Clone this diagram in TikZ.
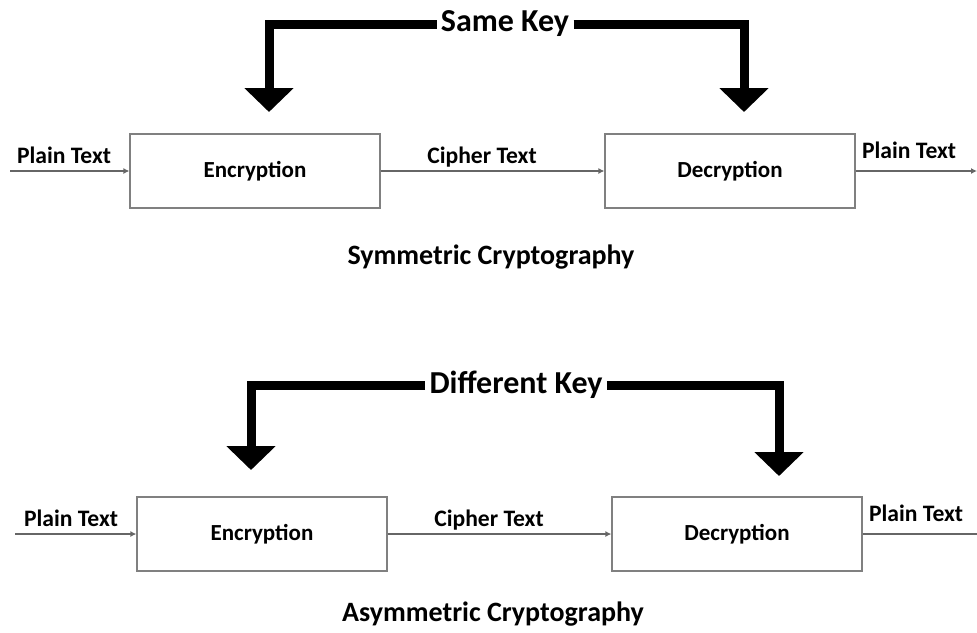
\documentclass[tikz,border=0pt]{standalone}
\usepackage{fontspec}
\setmainfont{Carlito}
\usetikzlibrary{arrows.meta,positioning}

\colorlet{box edge}{black!50}
\colorlet{flow line}{black!60}
\tikzset{
  block/.style={draw=box edge, line width=0.6pt, minimum width=125pt, minimum height=37pt,
    font=\fontsize{11.5}{13}\selectfont\bfseries},
  flow/.style={draw=flow line, line width=0.7pt, -{Latex[length=3pt,width=3pt]}},
  plain/.style={draw=flow line, line width=0.7pt},
  tag/.style={inner sep=0pt, font=\fontsize{11.8}{13}\selectfont\bfseries},
  caption/.style={inner sep=0pt, font=\fontsize{14}{16}\selectfont\bfseries},
  keytext/.style={inner sep=2pt, font=\fontsize{16}{18}\selectfont\bfseries},
  keyline/.style={draw, line width=4.5pt, -{Triangle[length=12pt,width=24pt]}}
  }

\begin{document}
\begin{tikzpicture}[x=0.5pt,y=-0.5pt]
   \useasboundingbox (0,0) rectangle (977,632);

   % symmetric
   \node[block] (enc) at (255,171) {Encryption};
   \node[block] (dec) at (730,171) {Decryption};
   \coordinate (in) at (10,171);
   \coordinate (out) at (977,171);
   \node[tag] (p1) at (64,155) {Plain Text};
   \node[tag] (c1) at (482,157) {Cipher Text};
   \node[tag] (p2) at (909,150) {Plain Text};
   \node[caption] (sym) at (491,257) {Symmetric Cryptography};

   \node[keytext] (skey) at (505,24) {Same Key};
   \coordinate (ek1) at (269,112);
   \coordinate (dk1) at (744,112);

   \path[flow] (in) -- (enc);
   \path[flow] (enc) -- (dec);
   \path[flow] (dec) -- (out);
   \path[keyline] (skey.west) -| (ek1);
   \path[keyline] (skey.east) -| (dk1);

   % asymmetric
   \node[block] (enc2) at (262,534) {Encryption};
   \node[block] (dec2) at (737,534) {Decryption};
   \coordinate (in2) at (15,534);
   \coordinate (out2) at (977,534);
   \node[tag] (p3) at (71,518) {Plain Text};
   \node[tag] (c2) at (489,520) {Cipher Text};
   \node[tag] (p4) at (916,513) {Plain Text};
   \node[caption] (asym) at (493,614) {Asymmetric Cryptography};

   \node[keytext] (dkey) at (516,385) {Different Key};
   \coordinate (ek2) at (251,470);
   \coordinate (dk2) at (779,476);

   \path[flow] (in2) -- (enc2);
   \path[flow] (enc2) -- (dec2);
   \path[plain] (dec2) -- (out2);
   \path[keyline] (dkey.west) -| (ek2);
   \path[keyline] (dkey.east) -| (dk2);
\end{tikzpicture}
\end{document}
